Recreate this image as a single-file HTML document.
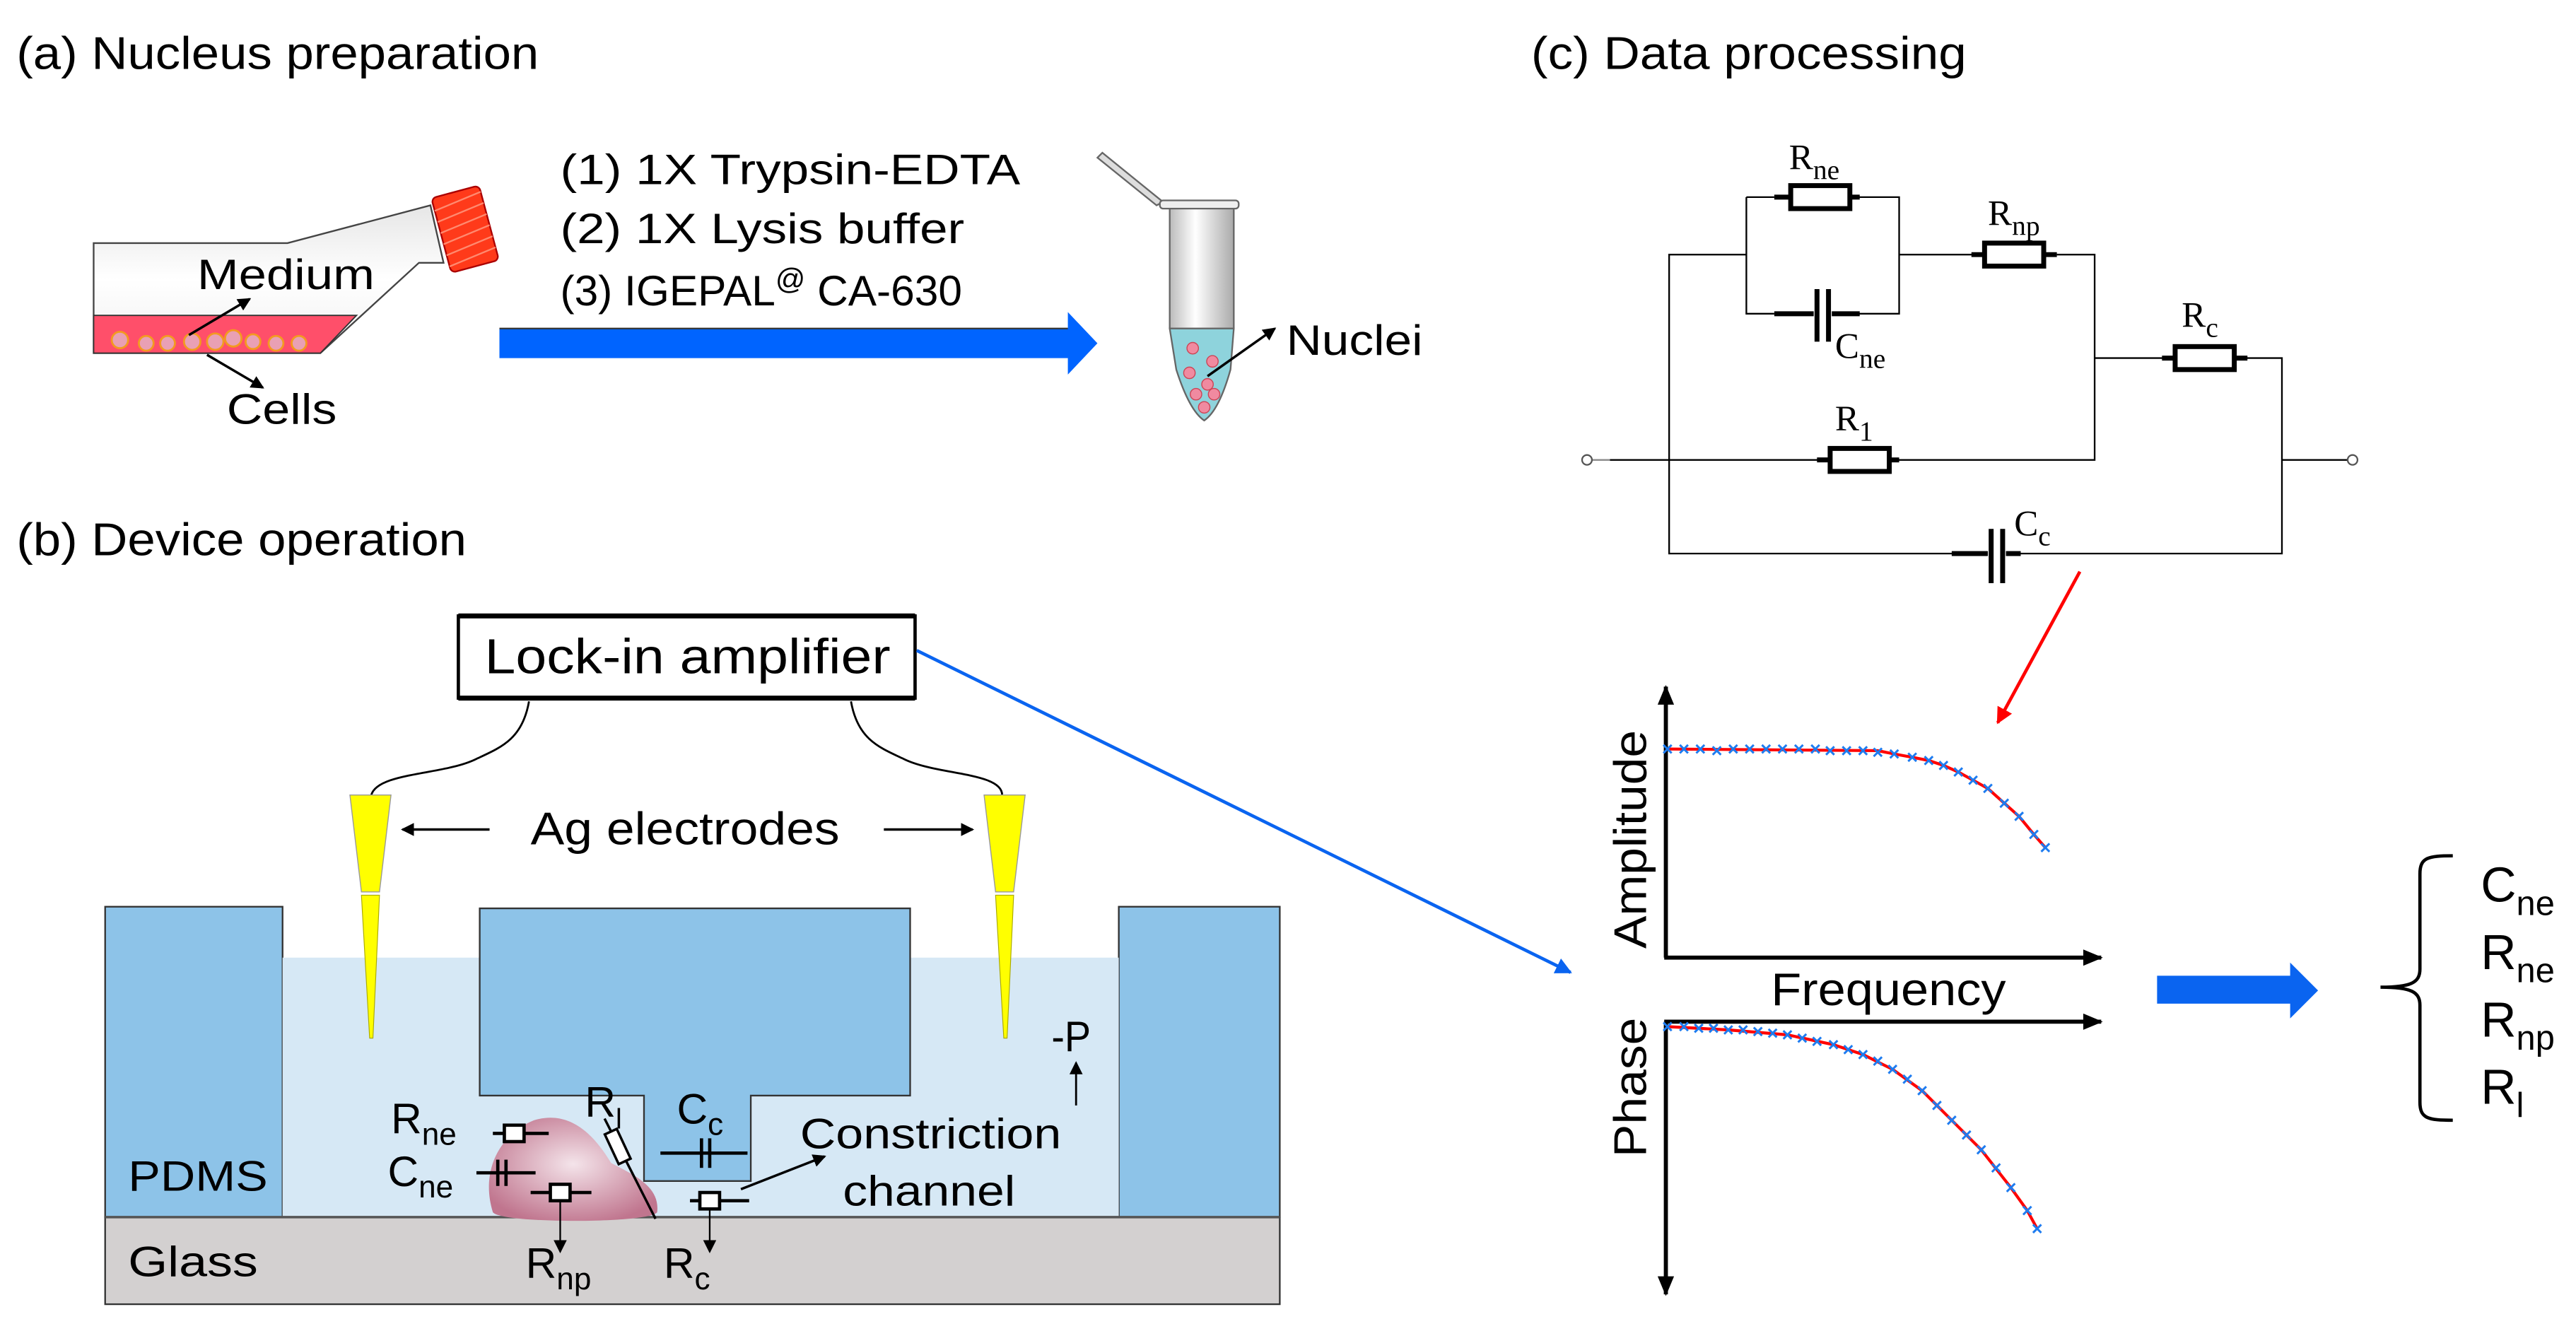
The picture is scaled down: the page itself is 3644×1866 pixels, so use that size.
<!DOCTYPE html>
<html><head><meta charset="utf-8"><style>
html,body{margin:0;padding:0;background:#fff;}
svg{display:block;}
text{font-family:"Liberation Sans",sans-serif;fill:#000;}
.s{font-family:"Liberation Serif",serif;}
</style></head><body>
<svg width="3644" height="1866" viewBox="0 0 1568 803" preserveAspectRatio="none" xmlns="http://www.w3.org/2000/svg">
<defs>
<linearGradient id="fl" x1="0" y1="0" x2="0" y2="1"><stop offset="0" stop-color="#e6e6e6"/><stop offset="0.5" stop-color="#fff"/><stop offset="1" stop-color="#f0f0f0"/></linearGradient>
<linearGradient id="tb" x1="0" y1="0" x2="1" y2="0"><stop offset="0" stop-color="#bbb"/><stop offset="0.4" stop-color="#fff"/><stop offset="1" stop-color="#aaa"/></linearGradient>
<radialGradient id="nu" cx="0.5" cy="0.45" r="0.6"><stop offset="0" stop-color="#f4e4ea"/><stop offset="1" stop-color="#c0758e"/></radialGradient>
<marker id="ah" markerWidth="8" markerHeight="8" refX="7" refY="4" orient="auto" markerUnits="userSpaceOnUse"><path d="M0,0 L8,4 L0,8 z" fill="#000"/></marker>
<marker id="ahb" markerWidth="10" markerHeight="10" refX="9" refY="5" orient="auto" markerUnits="userSpaceOnUse"><path d="M0,0 L10,5 L0,10 z" fill="#0a64f0"/></marker>
<marker id="ahr" markerWidth="10" markerHeight="10" refX="9" refY="5" orient="auto" markerUnits="userSpaceOnUse"><path d="M0,0 L10,5 L0,10 z" fill="#f00"/></marker>
<marker id="ahk" markerWidth="12" markerHeight="10" refX="11" refY="5" orient="auto" markerUnits="userSpaceOnUse"><path d="M0,0 L12,5 L0,10 z" fill="#000"/></marker>
<marker id="xm" markerWidth="6" markerHeight="6" refX="3" refY="3" markerUnits="userSpaceOnUse"><path d="M0.5,0.5 L5.5,5.5 M5.5,0.5 L0.5,5.5" stroke="#1e7cf0" stroke-width="1.3"/></marker>
</defs>

<!-- (a) -->
<text x="10" y="42" font-size="28" textLength="318" lengthAdjust="spacingAndGlyphs">(a) Nucleus preparation</text>
<polygon points="57,148 175,148 262,125 270,160 255,160 195,215 57,215" fill="url(#fl)" stroke="#444" stroke-width="1"/>
<polygon points="57,192 217,192 195,215 57,215" fill="#ff4f6a" stroke="#333" stroke-width="0.8"/>
<g fill="#e9a0b4" stroke="#f39a20" stroke-width="1.2">
<circle cx="73" cy="207" r="5"/><circle cx="89" cy="209" r="4.5"/><circle cx="102" cy="209" r="4.5"/><circle cx="117" cy="208" r="5"/><circle cx="131" cy="208" r="5"/><circle cx="142" cy="206" r="5"/><circle cx="154" cy="208" r="4.5"/><circle cx="168" cy="209" r="4.5"/><circle cx="182" cy="209" r="4.5"/></g>
<g transform="translate(283,139) rotate(-15)"><rect x="-15" y="-23" width="30" height="47" rx="3" fill="#ff3a1a" stroke="#a00" stroke-width="1"/>
<g stroke="#ff8a70" stroke-width="1"><line x1="-15" y1="-15" x2="15" y2="-19"/><line x1="-15" y1="-8" x2="15" y2="-12"/><line x1="-15" y1="-1" x2="15" y2="-5"/><line x1="-15" y1="6" x2="15" y2="2"/><line x1="-15" y1="13" x2="15" y2="9"/><line x1="-15" y1="20" x2="15" y2="16"/></g></g>
<text x="120" y="176" font-size="26" textLength="108" lengthAdjust="spacingAndGlyphs">Medium</text>
<line x1="115" y1="204" x2="152" y2="182" stroke="#000" stroke-width="1.5" marker-end="url(#ah)"/>
<text x="138" y="258" font-size="26" textLength="67" lengthAdjust="spacingAndGlyphs">Cells</text>
<line x1="126" y1="216" x2="160" y2="236" stroke="#000" stroke-width="1.5" marker-end="url(#ah)"/>
<text x="341" y="112" font-size="26" textLength="280" lengthAdjust="spacingAndGlyphs">(1) 1X Trypsin-EDTA</text>
<text x="341" y="148" font-size="26" textLength="246" lengthAdjust="spacingAndGlyphs">(2) 1X Lysis buffer</text>
<text x="341" y="186" font-size="26">(3) IGEPAL<tspan dy="-10" font-size="18">@</tspan><tspan dy="10"> CA-630</tspan></text>
<polygon points="304,200 650,200 650,190 668,209 650,228 650,218 304,218" fill="#0064ff"/>
<line x1="304" y1="200" x2="650" y2="200" stroke="#333" stroke-width="1"/>
<!-- tube -->
<polygon points="668,96 671,93 708,123 704,125" fill="#ddd" stroke="#666" stroke-width="1"/>
<rect x="706" y="122" width="48" height="5" rx="2" fill="#eee" stroke="#666" stroke-width="1"/>
<path d="M712,127 L751,127 L751,200 L712,200 z" fill="url(#tb)" stroke="#666" stroke-width="1"/>
<path d="M712,200 L751,200 L749,225 Q742,250 733,256 Q724,250 716,225 z" fill="#8ed3dc" stroke="#666" stroke-width="1"/>
<g fill="#f08aa0" stroke="#c45" stroke-width="0.6"><circle cx="726" cy="212" r="3.5"/><circle cx="738" cy="220" r="3.5"/><circle cx="724" cy="227" r="3.5"/><circle cx="735" cy="234" r="3.5"/><circle cx="728" cy="240" r="3.5"/><circle cx="739" cy="240" r="3.5"/><circle cx="733" cy="248" r="3.5"/></g>
<line x1="735" y1="229" x2="776" y2="200" stroke="#000" stroke-width="1.5" marker-end="url(#ah)"/>
<text x="783" y="216" font-size="26" textLength="83" lengthAdjust="spacingAndGlyphs">Nuclei</text>

<!-- (b) -->
<text x="10" y="338" font-size="28" textLength="274" lengthAdjust="spacingAndGlyphs">(b) Device operation</text>
<rect x="279" y="375" width="278" height="50" fill="#fff" stroke="#000" stroke-width="2"/>
<line x1="279" y1="375" x2="557" y2="375" stroke="#000" stroke-width="3"/>
<line x1="279" y1="425" x2="557" y2="425" stroke="#000" stroke-width="3"/>
<text x="295" y="410" font-size="30" textLength="247" lengthAdjust="spacingAndGlyphs">Lock-in amplifier</text>
<path d="M322,427 C318,450 305,455 290,462 C270,472 230,470 226,484" fill="none" stroke="#000" stroke-width="1.2"/>
<path d="M518,427 C522,450 535,455 550,462 C570,472 610,470 610,484" fill="none" stroke="#000" stroke-width="1.2"/>
<line x1="558" y1="396" x2="956" y2="592" stroke="#0a64f0" stroke-width="2" marker-end="url(#ahb)"/>
<rect x="64" y="552" width="108" height="189" fill="#8dc3e8" stroke="#333" stroke-width="1"/>
<rect x="681" y="552" width="98" height="189" fill="#8dc3e8" stroke="#333" stroke-width="1"/>
<rect x="172" y="583" width="509" height="158" fill="#d6e8f5"/>
<path d="M292,553 L554,553 L554,667 L457,667 L457,719 L392,719 L392,667 L292,667 z" fill="#8dc3e8" stroke="#333" stroke-width="1"/>
<rect x="64" y="741" width="715" height="53" fill="#d3d0d0" stroke="#333" stroke-width="1"/>
<line x1="64" y1="741" x2="779" y2="741" stroke="#555" stroke-width="1.5"/>
<!-- electrodes -->
<polygon points="213,484 238,484 231,543 220,543" fill="#ffff00" stroke="#999" stroke-width="0.6"/>
<polygon points="220,545 231,545 227,632 225,632" fill="#ffff00" stroke="#aa0" stroke-width="0.5"/>
<polygon points="599,484 624,484 617,543 606,543" fill="#ffff00" stroke="#999" stroke-width="0.6"/>
<polygon points="606,545 617,545 613,632 611,632" fill="#ffff00" stroke="#aa0" stroke-width="0.5"/>
<text x="323" y="514" font-size="28" textLength="188" lengthAdjust="spacingAndGlyphs">Ag electrodes</text>
<line x1="298" y1="505" x2="245" y2="505" stroke="#000" stroke-width="1.5" marker-end="url(#ah)"/>
<line x1="538" y1="505" x2="592" y2="505" stroke="#000" stroke-width="1.5" marker-end="url(#ah)"/>
<!-- nucleus -->
<path d="M300,738 C292,712 305,690 325,682 C345,676 360,688 372,708 C385,715 402,722 400,738 C395,745 305,745 300,738 z" fill="url(#nu)"/>
<g stroke="#000" stroke-width="2" fill="#fff">
<line x1="300" y1="690" x2="334" y2="690"/><rect x="307" y="685" width="12" height="10"/>
<line x1="290" y1="714" x2="326" y2="714"/><line x1="303" y1="706" x2="303" y2="722"/><line x1="308" y1="706" x2="308" y2="722"/>
<line x1="323" y1="726" x2="360" y2="726"/><rect x="335" y="721" width="12" height="10"/>
<line x1="420" y1="731" x2="456" y2="731"/><rect x="426" y="726" width="12" height="10"/>
<line x1="402" y1="702" x2="455" y2="702"/><line x1="427" y1="693" x2="427" y2="711"/><line x1="432" y1="693" x2="432" y2="711"/>
</g>
<line x1="368" y1="681" x2="399" y2="742" stroke="#000" stroke-width="1.5"/>
<rect x="372" y="688" width="8" height="20" fill="#fff" stroke="#000" stroke-width="1.5" transform="rotate(-25 376 698)"/>
<line x1="341" y1="731" x2="341" y2="762" stroke="#000" stroke-width="1" marker-end="url(#ah)"/>
<line x1="432" y1="736" x2="432" y2="762" stroke="#000" stroke-width="1" marker-end="url(#ah)"/>
<g font-size="26">
<text x="238" y="690">R<tspan dy="7" font-size="19">ne</tspan></text>
<text x="236" y="722">C<tspan dy="7" font-size="19">ne</tspan></text>
<text x="356" y="680">R<tspan dy="7" font-size="17">l</tspan></text>
<text x="412" y="684">C<tspan dy="7" font-size="19">c</tspan></text>
<text x="320" y="778">R<tspan dy="7" font-size="19">np</tspan></text>
<text x="404" y="778">R<tspan dy="7" font-size="19">c</tspan></text>
<text x="78" y="725" textLength="85" lengthAdjust="spacingAndGlyphs">PDMS</text>
<text x="78" y="777" textLength="79" lengthAdjust="spacingAndGlyphs">Glass</text>
<text x="640" y="640" textLength="24" lengthAdjust="spacingAndGlyphs">-P</text>
<text x="487" y="699" textLength="159" lengthAdjust="spacingAndGlyphs">Constriction</text>
<text x="513" y="734" textLength="105" lengthAdjust="spacingAndGlyphs">channel</text>
</g>
<line x1="655" y1="673" x2="655" y2="647" stroke="#000" stroke-width="1.2" marker-end="url(#ah)"/>
<line x1="451" y1="724" x2="502" y2="704" stroke="#000" stroke-width="1.5" marker-end="url(#ah)"/>

<!-- (c) circuit -->
<text x="932" y="42" font-size="28" textLength="265" lengthAdjust="spacingAndGlyphs">(c) Data processing</text>
<g stroke="#000" stroke-width="1" fill="none">
<polyline points="1063,155 1016,155 1016,337 1190,337"/>
<polyline points="1229,337 1389,337 1389,218 1366,218"/>
<polyline points="1063,120 1063,191 1080,191"/>
<polyline points="1063,120 1080,120"/><polyline points="1130,120 1156,120 1156,191 1130,191"/>
<line x1="1156" y1="155" x2="1204" y2="155"/><polyline points="1252,155 1275,155 1275,280 1154,280"/>
<line x1="1275" y1="218" x2="1318" y2="218"/>
<line x1="980" y1="280" x2="1108" y2="280"/>
<line x1="1389" y1="280" x2="1430" y2="280"/>
<line x1="966" y1="280" x2="980" y2="280" stroke="#888"/>
</g>
<g stroke="#000" stroke-width="3" fill="#fff">
<rect x="1090" y="113" width="36" height="14"/><line x1="1080" y1="120" x2="1090" y2="120"/><line x1="1126" y1="120" x2="1132" y2="120"/>
<rect x="1208" y="148" width="36" height="14"/><line x1="1200" y1="155" x2="1208" y2="155"/><line x1="1244" y1="155" x2="1252" y2="155"/>
<rect x="1324" y="211" width="36" height="14"/><line x1="1316" y1="218" x2="1324" y2="218"/><line x1="1360" y1="218" x2="1368" y2="218"/>
<rect x="1114" y="273" width="36" height="14"/><line x1="1106" y1="280" x2="1114" y2="280"/><line x1="1150" y1="280" x2="1156" y2="280"/>
<line x1="1080" y1="191" x2="1104" y2="191"/><line x1="1106" y1="176" x2="1106" y2="208"/><line x1="1113" y1="176" x2="1113" y2="208"/><line x1="1115" y1="191" x2="1132" y2="191"/>
<line x1="1188" y1="337" x2="1210" y2="337"/><line x1="1212" y1="322" x2="1212" y2="355"/><line x1="1219" y1="322" x2="1219" y2="355"/><line x1="1221" y1="337" x2="1230" y2="337"/>
</g>
<circle cx="966" cy="280" r="3" fill="#fff" stroke="#555" stroke-width="1"/>
<circle cx="1432" cy="280" r="3" fill="#fff" stroke="#555" stroke-width="1"/>
<g class="s" font-size="22">
<text class="s" x="1089" y="103">R<tspan dy="6" font-size="17">ne</tspan></text>
<text class="s" x="1210" y="137">R<tspan dy="6" font-size="17">np</tspan></text>
<text class="s" x="1117" y="218">C<tspan dy="6" font-size="17">ne</tspan></text>
<text class="s" x="1328" y="199">R<tspan dy="6" font-size="17">c</tspan></text>
<text class="s" x="1117" y="262">R<tspan dy="6" font-size="17">1</tspan></text>
<text class="s" x="1226" y="326">C<tspan dy="6" font-size="17">c</tspan></text>
</g>
<line x1="1266" y1="348" x2="1216" y2="440" stroke="#f00" stroke-width="2" marker-end="url(#ahr)"/>

<!-- plots -->
<g stroke="#000" stroke-width="2.5" fill="none">
<line x1="1014" y1="583" x2="1014" y2="418" marker-end="url(#ahk)"/>
<line x1="1013" y1="583" x2="1279" y2="583" marker-end="url(#ahk)"/>
<line x1="1013" y1="622" x2="1279" y2="622" marker-end="url(#ahk)"/>
<line x1="1014" y1="622" x2="1014" y2="788" marker-end="url(#ahk)"/>
</g>
<text x="1002" y="511" font-size="28" text-anchor="middle" textLength="133" lengthAdjust="spacingAndGlyphs" transform="rotate(-90 1002 511)">Amplitude</text>
<text x="1002" y="662" font-size="28" text-anchor="middle" textLength="85" lengthAdjust="spacingAndGlyphs" transform="rotate(-90 1002 662)">Phase</text>
<text x="1078" y="612" font-size="28" textLength="143" lengthAdjust="spacingAndGlyphs">Frequency</text>
<polyline points="1014,456 1143,457 1153,459 1164,461 1174,463 1183,466 1192,470 1201,475 1210,480 1220,489 1229,497 1238,508 1245,516" fill="none" stroke="#f00" stroke-width="1.8"/>
<polyline points="1015,456 1025,456 1035,456 1045,457 1055,456 1065,456 1075,456 1085,456 1095,456 1105,456 1114,457 1124,457 1134,457 1143,458 1153,459 1164,461 1174,463 1183,466 1192,470 1201,475 1210,480 1220,489 1229,497 1238,508 1245,516" fill="none" stroke="none" marker-start="url(#xm)" marker-mid="url(#xm)" marker-end="url(#xm)"/>
<polyline points="1015,625 1052,627 1088,630 1116,636 1134,642 1152,651 1170,664 1188,682 1206,700 1224,723 1234,737 1240,748" fill="none" stroke="#f00" stroke-width="1.8"/>
<polyline points="1015,625 1025,625 1034,626 1043,626 1052,627 1061,627 1070,628 1079,629 1088,630 1097,632 1106,634 1116,636 1125,639 1134,642 1143,646 1152,651 1161,657 1170,664 1179,673 1188,682 1197,691 1206,700 1215,711 1224,723 1234,737 1240,748" fill="none" stroke="none" marker-start="url(#xm)" marker-mid="url(#xm)" marker-end="url(#xm)"/>
<polygon points="1313,594 1394,594 1394,586 1411,603 1394,620 1394,611 1313,611" fill="#0a64f0"/>
<path d="M1493,521 C1478,521 1473,522 1473,532 L1473,590 C1473,598 1468,601 1449,601 C1468,601 1473,604 1473,612 L1473,671 C1473,681 1478,682 1493,682" fill="none" stroke="#000" stroke-width="2"/>
<g font-size="30">
<text x="1510" y="549">C<tspan dy="8" font-size="21">ne</tspan></text>
<text x="1510" y="590">R<tspan dy="8" font-size="21">ne</tspan></text>
<text x="1510" y="631">R<tspan dy="8" font-size="21">np</tspan></text>
<text x="1510" y="672">R<tspan dy="8" font-size="21">l</tspan></text>
</g>
</svg>
</body></html>
